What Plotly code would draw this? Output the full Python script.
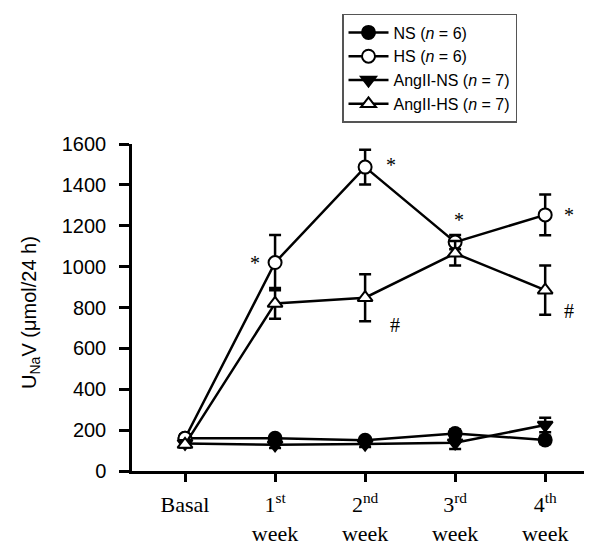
import plotly.graph_objects as go

categories = ["Basal", "1<sup>st</sup><br>week", "2<sup>nd</sup><br>week", "3<sup>rd</sup><br>week", "4<sup>th</sup><br>week"]
xpos = [0, 1, 2, 3, 4]

ns_vals = [160, 160, 150, 183, 152]
ns_err = [20, 15, 15, 20, 20]
hs_vals = [160, 1020, 1487, 1120, 1253]
hs_err = [20, 135, 85, 35, 100]
angns_vals = [135, 128, 132, 138, 225]
angns_err = [15, 15, 15, 30, 35]
anghs_vals = [130, 820, 848, 1065, 885]
anghs_err = [15, 75, 115, 60, 120]

names = ["NS (<i>n</i> = 6)", "HS (<i>n</i> = 6)", "AngII-NS (<i>n</i> = 7)", "AngII-HS (<i>n</i> = 7)"]

fig = go.Figure()

def add(vals, err, name, symbol, fill):
    fig.add_trace(go.Scatter(
        x=xpos, y=vals, name=name, mode="lines+markers",
        line=dict(color="black", width=2.5),
        marker=dict(symbol=symbol, size=13, color=fill, line=dict(color="black", width=2)),
        error_y=dict(type="data", array=err, visible=True, color="black", thickness=2.5, width=6),
        cliponaxis=False,
    ))

add(ns_vals, ns_err, names[0], "circle", "black")
add(hs_vals, hs_err, names[1], "circle", "white")
add(angns_vals, angns_err, names[2], "triangle-down", "black")
add(anghs_vals, anghs_err, names[3], "triangle-up", "white")

marks = [
    (1, 1020, "*", -20, 0),
    (2, 1487, "*", 26, 2),
    (3, 1120, "*", 4, 22),
    (4, 1253, "*", 24, 0),
    (2, 848, "#", 30, -27),
    (4, 885, "#", 24, -21),
]
for x, y, t, dx, dy in marks:
    fig.add_annotation(x=x, y=y, text=t, showarrow=False, xshift=dx, yshift=dy,
                       font=dict(family="Liberation Serif", size=20, color="black"))

fig.add_annotation(xref="paper", yref="paper", x=-0.222, y=0.486, xanchor="center", yanchor="middle",
                   text="U<sub>Na</sub>V (μmol/24 h)", textangle=-90, showarrow=False,
                   font=dict(family="Liberation Sans", size=20, color="black"))

fig.update_layout(
    width=592, height=545,
    margin=dict(l=124, r=8, t=136, b=82, autoexpand=False),
    plot_bgcolor="white", paper_bgcolor="white",
    showlegend=True,
    legend=dict(xref="container", yref="container", x=0.5642, y=0.989,
                xanchor="left", yanchor="top",
                bordercolor="#555", borderwidth=1.5, bgcolor="white",
                font=dict(family="Liberation Sans", size=16, color="black"),
                tracegroupgap=0, itemwidth=40),
    font=dict(family="Liberation Sans", color="black"),
)
fig.update_xaxes(
    range=[-0.589, 4.52], tickmode="array", tickvals=xpos, ticktext=categories,
    showline=True, linecolor="black", linewidth=2.5, ticks="outside", ticklen=8,
    tickwidth=2.5, tickcolor="black", showgrid=False, zeroline=False,
    ticklabelstandoff=4, automargin=False,
    tickfont=dict(family="Liberation Serif", size=22, color="black"),
)
fig.update_yaxes(
    range=[0, 1600], tickvals=[0, 200, 400, 600, 800, 1000, 1200, 1400, 1600],
    showline=True, linecolor="black", linewidth=2.5, ticks="outside", ticklen=10,
    tickwidth=2.5, tickcolor="black", showgrid=False, zeroline=False,
    ticklabelstandoff=9, automargin=False,
    tickfont=dict(family="Liberation Sans", size=20, color="black"),
)

fig.write_html("out.html")
